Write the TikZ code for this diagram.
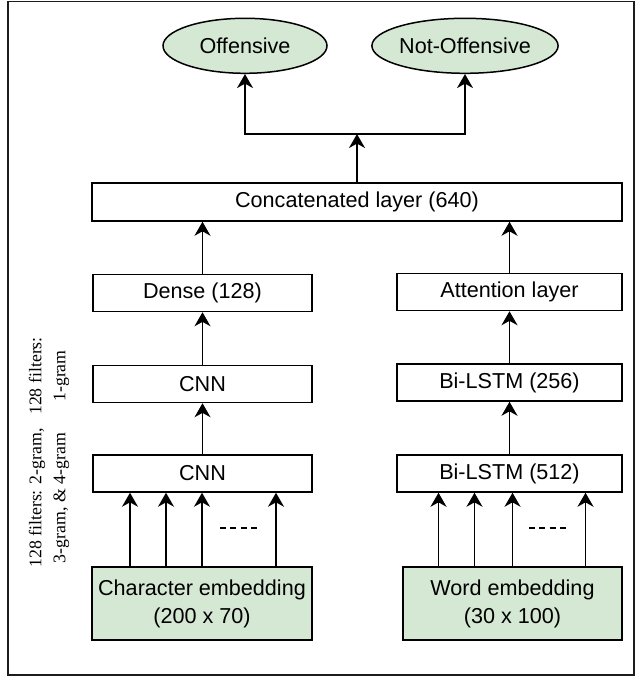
\documentclass[tikz,border=0pt]{standalone}
\usepackage{fontspec}
\setmainfont{Liberation Sans}
\newfontfamily\filterfont{Liberation Serif}
\usetikzlibrary{arrows.meta,shapes.geometric}
\definecolor{embedgreen}{RGB}{213,232,212}
\definecolor{framegray}{RGB}{28,28,28}

\begin{document}
\begin{tikzpicture}[x=0.5pt, y=-0.5pt, line join=miter,
  font=\fontsize{10.8}{14}\selectfont,
  >={Stealth[length=7pt,width=8pt,inset=2.2pt]},
  layer/.style={draw, line width=0.75pt, minimum width=109.5pt, minimum height=18.5pt, inner sep=0pt},
  embed/.style={layer, fill=embedgreen, minimum height=36.5pt, align=center},
  outcome/.style={ellipse, draw, line width=0.75pt, fill=embedgreen,
    minimum width=82pt, minimum height=27.5pt, inner sep=0pt},
  flow/.style={->, line width=0.7pt},
  filters/.style={rotate=90, align=center, font=\filterfont\fontsize{8.9}{12}\selectfont}]

\useasboundingbox (0,0) rectangle (636,679);
\draw[framegray, line width=0.8pt] (8,1.5) rectangle (634,675);

% ---------- outputs ----------
\node[outcome] (off) at (245,45.8) {Offensive};
\node[outcome] (notoff) at (465,45.8) {Not-Offensive};

\node[layer, minimum width=265pt, minimum height=19pt] (concat) at (357,202) {Concatenated layer (640)};
\coordinate (split) at (357,134);
\draw[flow] (concat.north) -- (split);
\draw[flow] (split) -| (off.south);
\draw[flow] (split) -| (notoff.south);

% ---------- character branch ----------
\node[layer] (dense) at (202.5,293) {Dense (128)};
\node[layer] (cnnt) at (202.5,384) {CNN};
\node[layer] (cnnb) at (202.5,473.5) {CNN};
\node[embed, minimum width=110pt] (char) at (202,603.5) {Character embedding\\(200 x 70)};

\draw[flow] (cnnb.north) -- (cnnt.south);
\draw[flow] (cnnt.north) -- (dense.south);
\draw[flow] (dense.north) -- (dense.north |- concat.south);
\foreach \dx in {-36,-18,0,37}
  \draw[flow] ([xshift=\dx pt]char.north) -- ([xshift=\dx pt]char.north |- cnnb.south);
\draw[line width=0.7pt, dash pattern=on 3pt off 2.2pt] (220,528) -- (258,528);

\node[filters] (filtlow) at (49,498) {128 filters: 2-gram,\\3-gram, \& 4-gram};
\node[filters] (filtup) at (49,376) {128 filters:\\1-gram};

% ---------- word branch ----------
\node[layer, minimum width=112.5pt] (attn) at (509.5,292) {Attention layer};
\node[layer, minimum width=112.5pt] (lstmt) at (509.5,382.5) {Bi-LSTM (256)};
\node[layer, minimum width=112.5pt] (lstmb) at (509.5,473.5) {Bi-LSTM (512)};
\node[embed] (word) at (512.5,603.5) {Word embedding\\(30 x 100)};

\draw[flow] (lstmb.north) -- (lstmt.south);
\draw[flow] (lstmt.north) -- (attn.south);
\draw[flow] (attn.north) -- (attn.north |- concat.south);
\foreach \dx in {-37,-19,0,36.5}
  \draw[flow] ([xshift=\dx pt]word.north) -- ([xshift=\dx pt]word.north |- lstmb.south);
\draw[line width=0.7pt, dash pattern=on 3pt off 2.2pt] (529,528) -- (568,528);

\end{tikzpicture}
\end{document}
